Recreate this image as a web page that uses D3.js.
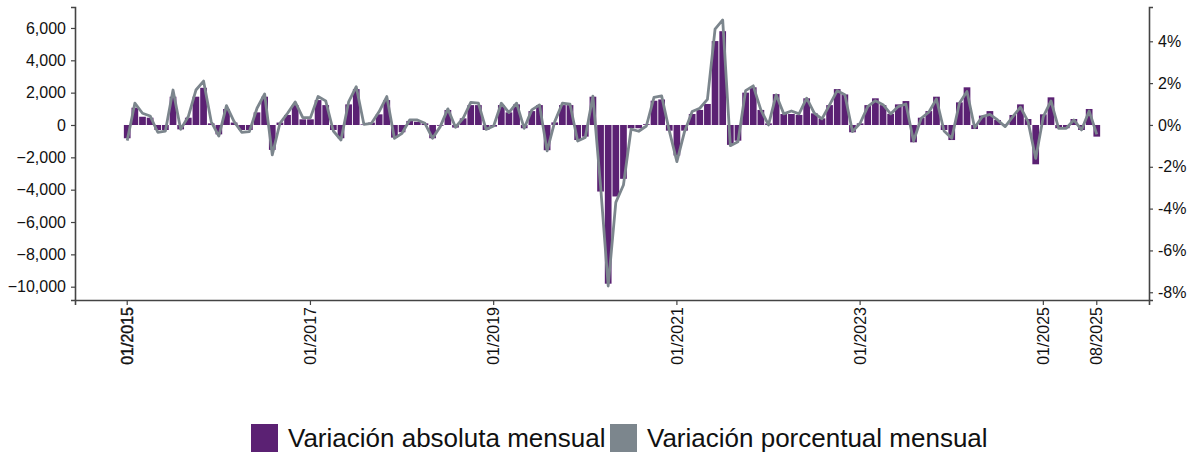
<!DOCTYPE html>
<html>
<head>
<meta charset="utf-8">
<script src="https://cdn.jsdelivr.net/npm/d3@7"></script>
<style>
  body { margin: 0; background: #fff; }
  svg text { font-family: "Liberation Sans", Arial, sans-serif; fill: #111; }
</style>
</head>
<body>
<svg id="chart" width="1196" height="456"></svg>
<script>
// monthly values 01/2015 - 08/2025
const absVals = [
  -820, 1070, 510, 450, -310, -310, 1750, -270, 450, 1750, 2300, 100,
  -580, 990, 150, -310, -310, 780, 1750, -1540, 150, 620, 1230, 350,
  350, 1540, 1230, -310, -820, 1275, 2220, 40, 150, 660, 1540, -780,
  -450, 250, 200, 100, -820, -50, 930, -160, 410, 1230, 1230, -310,
  -100, 1230, 780, 1275, -200, 860, 1230, -1560, 160, 1230, 1230, -930,
  -720, 1750, -4115, -9815, -4420, -3330, -200, -200, 50, 1500, 1580, -350,
  -1890, -350, 680, 930, 1300, 5190, 5800, -1230, -970, 2000, 2330, 930,
  100, 1910, 680, 680, 620, 1650, 720, 410, 1230, 2220, 1890, -450,
  100, 1230, 1650, 1230, 690, 1275, 1480, -1070, 450, 860, 1750, -310,
  -930, 1400, 2330, -250, 580, 860, 310, 40, 620, 1275, 370, -2430,
  660, 1710, -200, -200, 370, -310, 990, -720
];
const pctVals = [
  -0.75, 1.04, 0.56, 0.43, -0.35, -0.29, 1.67, -0.21, 0.40, 1.67, 2.10, 0.16,
  -0.53, 0.92, 0.16, -0.35, -0.32, 0.80, 1.48, -1.43, 0.08, 0.56, 1.10, 0.35,
  0.35, 1.36, 1.15, -0.29, -0.72, 1.10, 1.83, 0.03, 0.08, 0.64, 1.36, -0.64,
  -0.40, 0.24, 0.24, 0.08, -0.64, -0.08, 0.77, -0.11, 0.32, 1.08, 1.04, -0.21,
  -0.05, 1.04, 0.59, 1.04, -0.16, 0.72, 0.96, -1.24, 0.16, 1.04, 0.99, -0.77,
  -0.60, 1.38, -2.90, -7.70, -3.70, -2.87, -0.20, -0.30, -0.05, 1.32, 1.39, -0.27,
  -1.75, -0.32, 0.64, 0.80, 1.22, 4.58, 5.02, -0.99, -0.80, 1.64, 1.87, 0.72,
  0.00, 1.44, 0.53, 0.67, 0.53, 1.28, 0.56, 0.29, 0.96, 1.64, 1.44, -0.32,
  0.08, 0.88, 1.16, 0.97, 0.53, 0.88, 1.00, -0.77, 0.32, 0.61, 1.24, -0.29,
  -0.64, 1.04, 1.60, -0.13, 0.40, 0.51, 0.24, -0.08, 0.40, 0.85, 0.16, -1.60,
  0.40, 1.15, -0.16, -0.16, 0.24, -0.24, 0.67, -0.45
];
const xTickLabels = ["01/2015", "01/2017", "01/2019", "01/2021", "01/2023", "01/2025", "08/2025"];
const leftTicks = [6000, 4000, 2000, 0, -2000, -4000, -6000, -8000, -10000];
const rightTicks = [4, 2, 0, -2, -4, -6, -8];
const seriesNames = ["Variación absoluta mensual", "Variación porcentual mensual"];

const barColor = "#5b2173",
      lineColor = "#7c868d",
      axisColor = "#444";

const fmtMonth = d3.timeFormat("%m/%Y");
const months = d3.timeMonth.range(new Date(2015, 0, 1), new Date(2025, 8, 1)).map(fmtMonth);
const data = months.map((m, i) => ({ month: m, abs: absVals[i], pct: pctVals[i] }));

const svg = d3.select("#chart");
const margin = { left: 75, right: 1149, top: 7, bottom: 300 };

const x = d3.scaleBand()
    .domain(months)
    .range([margin.left, margin.right])
    .paddingInner(0.12)
    .paddingOuter(6.4);

const yL = d3.scaleLinear().domain([-10823, 7297]).range([margin.bottom, margin.top]);
const yR = d3.scaleLinear().domain([-8.37, 5.64]).range([margin.bottom, margin.top]);

// bars
svg.append("g")
  .selectAll("rect")
  .data(data)
  .join("rect")
    .attr("x", d => x(d.month))
    .attr("width", x.bandwidth())
    .attr("y", d => yL(Math.max(0, d.abs)))
    .attr("height", d => Math.abs(yL(d.abs) - yL(0)))
    .attr("fill", barColor);

// percent line
const line = d3.line()
    .x(d => x(d.month) + x.bandwidth() / 2)
    .y(d => yR(d.pct));

svg.append("path")
    .datum(data)
    .attr("d", line)
    .attr("fill", "none")
    .attr("stroke", lineColor)
    .attr("stroke-width", 2.8)
    .attr("stroke-linejoin", "round");

// axes
const styleAxis = g => {
  g.select(".domain").attr("stroke", axisColor).attr("stroke-width", 1.6);
  g.selectAll(".tick line").attr("stroke", axisColor).attr("stroke-width", 1.2);
  g.selectAll(".tick text").style("font-size", "16px").attr("fill", "#111");
};

svg.append("g")
    .attr("transform", `translate(${margin.left},0)`)
    .call(d3.axisLeft(yL).tickValues(leftTicks).tickFormat(d3.format(",")).tickSizeOuter(0).tickSize(4).tickPadding(5))
    .call(styleAxis);

svg.append("g")
    .attr("transform", `translate(${margin.right},0)`)
    .call(d3.axisRight(yR).tickValues(rightTicks).tickFormat(d => d + "%").tickSizeOuter(0).tickSize(4).tickPadding(5))
    .call(styleAxis);

const xAxis = svg.append("g")
    .attr("transform", `translate(0,${margin.bottom})`)
    .call(d3.axisBottom(x).tickValues(xTickLabels).tickSizeOuter(0).tickSize(5))
    .call(styleAxis);

xAxis.selectAll(".tick text")
    .attr("transform", "rotate(-90)")
    .attr("text-anchor", "end")
    .attr("dx", "-7px")
    .attr("dy", "0.35em")
    .attr("x", 0)
    .attr("y", 0)
    .attr("stroke", (d, i) => i === 0 ? "#111" : null)
    .attr("stroke-width", 0.4);

// legend
const legend = svg.append("g").attr("transform", "translate(251,424)");
const items = [
  { name: seriesNames[0], color: barColor, x: 0 },
  { name: seriesNames[1], color: lineColor, x: 359 }
];
const li = legend.selectAll("g").data(items).join("g")
    .attr("transform", d => `translate(${d.x},0)`);
li.append("rect").attr("width", 27).attr("height", 28).attr("fill", d => d.color);
li.append("text")
    .attr("x", 37)
    .attr("y", 23)
    .style("font-size", "26px")
    .text(d => d.name);
</script>
</body>
</html>
